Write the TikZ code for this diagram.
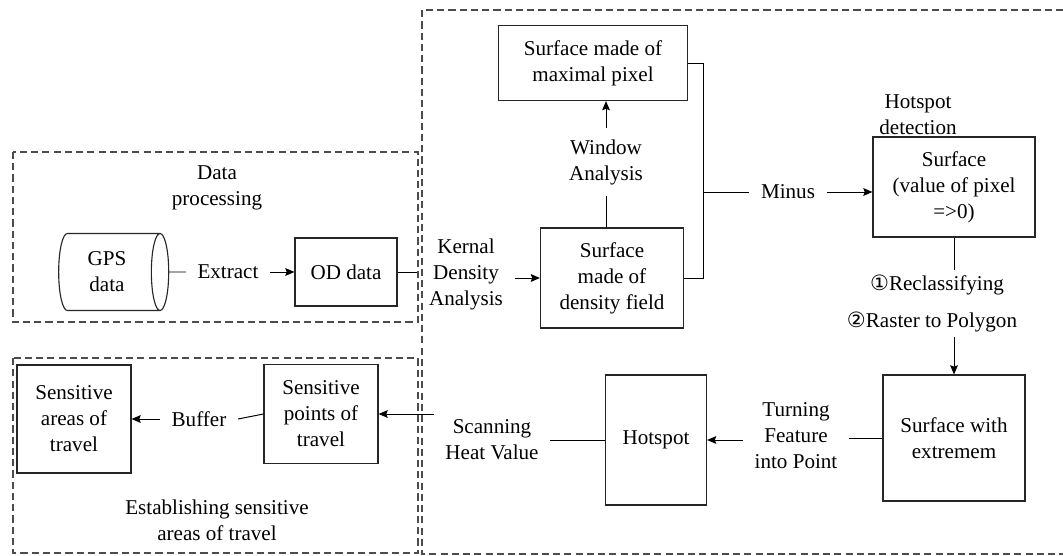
\documentclass[tikz,border=0pt]{standalone}
\usepackage{fontspec}
\setmainfont{Liberation Serif}
\newfontfamily\circfont{DejaVu Sans}
\usetikzlibrary{shapes.geometric, arrows.meta}

\begin{document}
\begin{tikzpicture}[
        x=0.025cm, y=-0.025cm,
        font=\fontsize{15}{18.5}\selectfont,
        line width=0.7pt,
        box/.style={
            rectangle, draw=black!85, line width=0.8pt,
            text centered, align=center, inner sep=2pt
        },
        db/.style={
            cylinder, draw=black!85, line width=0.8pt, aspect=0.35,
            align=center, minimum width=1.925cm, minimum height=2.75cm
        },
        lbl/.style={align=center, inner sep=8pt},
        groupbox/.style={draw=black!70, line width=0.8pt, dash pattern=on 5pt off 3pt},
        grouptitle/.style={align=center},
        arrow/.style={-{Stealth[length=6.5pt, width=5.5pt, inset=1pt]}}
    ]

        \useasboundingbox (0,0) rectangle (1063,556);

        % Gruppen
        \draw[groupbox] (13,152) rectangle (418,322);
        \draw[groupbox] (13,358) rectangle (418,553);
        \draw[groupbox] (1063,10) -- (422,10) -- (422,554) -- (1063,554);

        \node[grouptitle] (dptitle) at (217,188) {Data\\processing};
        \node[grouptitle] (hdtitle) at (918,115) {Hotspot\\detection};
        \node[grouptitle] (estitle) at (217,520) {Establishing sensitive\\areas of travel};

        % Daten
        \node[db] (gps) at (107,272) {GPS\\data};
        \node[box, minimum width=2.55cm, minimum height=1.7cm] (od) at (346,272) {OD data};

        % Hotspot
        \node[box, minimum width=3.575cm, minimum height=2.5cm] (density) at (612,278) {Surface\\made of\\density field};
        \node[box, minimum width=4.725cm, minimum height=1.875cm] (maxpix) at (593,63) {Surface made of\\maximal pixel};
        \node[box, minimum width=4.05cm, minimum height=2.5cm] (surfpix) at (954,187) {Surface\\(value of pixel\\=>0)};
        \node[box, minimum width=3.55cm, minimum height=3.15cm] (extremem) at (954,438) {Surface with\\extremem};
        \node[box, minimum width=2.525cm, minimum height=3.25cm] (hotspot) at (656,440) {Hotspot};

        % Sensible Bereiche
        \node[box, minimum width=2.85cm, minimum height=2.475cm] (points) at (321,414) {Sensitive\\points of\\travel};
        \node[box, minimum width=2.85cm, minimum height=2.7cm] (areas) at (74,419) {Sensitive\\areas of\\travel};

        % Beschriftungen
        \node[lbl] (extract) at (228,272) {Extract};
        \node[lbl] (kda) at (466,274) {Kernal\\Density\\Analysis};
        \node[lbl] (window) at (606,162) {Window\\Analysis};
        \node[lbl] (minus) at (788,192) {Minus};
        \node[lbl, inner sep=3pt] (reclass) at (937,285) {{\circfont ①}Reclassifying};
        \node[lbl, inner sep=3pt] (raster) at (932,322) {{\circfont ②}Raster to Polygon};
        \node[lbl] (turning) at (796,436) {Turning\\Feature\\into Point};
        \node[lbl] (scanning) at (492,440) {Scanning\\Heat Value};
        \node[lbl] (buffer) at (199,419) {Buffer};
        \coordinate (jn) at (703,192);

        % Verbindungen
        \draw (gps.east) -- (extract.west);
        \draw[arrow] (extract.east) -- (od.west);
        \draw (od.east) -- (od.east -| kda.west);
        \draw[arrow] (kda.east |- density.west) -- (density.west);
        \draw (density.north -| window.south) -- (window.south);
        \draw[arrow] (window.north) -- (window.north |- maxpix.south);
        \draw (maxpix.east) -| (jn) |- (density.east);
        \draw (jn) -- (minus.west);
        \draw[arrow] (minus.east) -- (minus.east -| surfpix.west);
        \draw (surfpix.south) -- (surfpix.south |- reclass.north);
        \draw[arrow] (extremem.north |- raster.south) -- (extremem.north);
        \draw (extremem.west) -- (extremem.west -| turning.east);
        \draw[arrow] (turning.west |- hotspot.east) -- (hotspot.east);
        \draw (hotspot.west) -- (hotspot.west -| scanning.east);
        \draw[arrow] (scanning.west |- points.east) -- (points.east);
        \draw (points.west) -- (buffer.east);
        \draw[arrow] (buffer.west) -- (areas.east);

    \end{tikzpicture}
\end{document}
